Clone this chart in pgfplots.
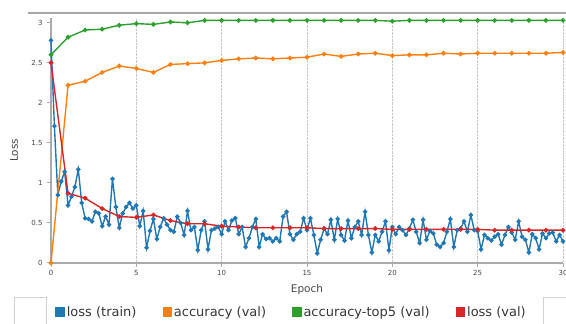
\documentclass[border=0pt]{standalone}
\usepackage{pgfplots}
\pgfplotsset{compat=1.18}
\usepackage{pgfplotstable}
\usepackage{fontspec}
\setmainfont{DejaVu Sans}
\definecolor{cblue}{HTML}{1F77B4}
\definecolor{corange}{HTML}{FF7F0E}
\definecolor{cgreen}{HTML}{2CA02C}
\definecolor{cred}{HTML}{D62728}
\definecolor{axgray}{HTML}{AAAAAA}
\definecolor{txtgray}{HTML}{444444}

\pgfplotstableread{
x y
0.0 2.78
0.2 1.71
0.4 0.85
0.6 1.02
0.8 1.14
1.0 0.72
1.2 0.83
1.4 0.95
1.6 1.17
1.8 0.75
2.0 0.56
2.2 0.55
2.4 0.52
2.6 0.64
2.8 0.62
3.0 0.46
3.2 0.58
3.4 0.48
3.6 1.05
3.8 0.70
4.0 0.44
4.2 0.62
4.4 0.70
4.6 0.75
4.8 0.68
5.0 0.72
5.2 0.46
5.4 0.65
5.6 0.19
5.8 0.40
6.0 0.55
6.2 0.30
6.4 0.45
6.6 0.56
6.8 0.48
7.0 0.41
7.2 0.39
7.4 0.58
7.6 0.50
7.8 0.35
8.0 0.65
8.2 0.41
8.4 0.45
8.6 0.16
8.8 0.41
9.0 0.52
9.2 0.17
9.4 0.41
9.6 0.43
9.8 0.45
10.0 0.36
10.2 0.52
10.4 0.41
10.6 0.53
10.8 0.56
11.0 0.36
11.2 0.45
11.4 0.20
11.6 0.31
11.8 0.45
12.0 0.55
12.2 0.20
12.4 0.36
12.6 0.30
12.8 0.31
13.0 0.27
13.2 0.31
13.4 0.27
13.6 0.58
13.8 0.64
14.0 0.36
14.2 0.29
14.4 0.36
14.6 0.39
14.8 0.56
15.0 0.41
15.2 0.56
15.4 0.35
15.6 0.12
15.8 0.29
16.0 0.43
16.2 0.36
16.4 0.54
16.6 0.29
16.8 0.55
17.0 0.35
17.2 0.28
17.4 0.53
17.6 0.31
17.8 0.45
18.0 0.52
18.2 0.35
18.4 0.64
18.6 0.35
18.8 0.13
19.0 0.35
19.2 0.27
19.4 0.39
19.6 0.52
19.8 0.16
20.0 0.45
20.2 0.36
20.4 0.45
20.6 0.41
20.8 0.35
21.0 0.43
21.2 0.54
21.4 0.39
21.6 0.25
21.8 0.54
22.0 0.29
22.2 0.40
22.4 0.37
22.6 0.23
22.8 0.20
23.0 0.25
23.2 0.39
23.4 0.55
23.6 0.20
23.8 0.41
24.0 0.43
24.2 0.52
24.4 0.39
24.6 0.60
24.8 0.41
25.0 0.40
25.2 0.17
25.4 0.35
25.6 0.31
25.8 0.28
26.0 0.33
26.2 0.36
26.4 0.23
26.6 0.35
26.8 0.45
27.0 0.38
27.2 0.29
27.4 0.52
27.6 0.33
27.8 0.29
28.0 0.13
28.2 0.36
28.4 0.31
28.6 0.17
28.8 0.37
29.0 0.31
29.2 0.37
29.4 0.38
29.6 0.27
29.8 0.35
30.0 0.27
}\losstrain

\pgfplotstableread{
x acc top5 lossval
0 0.00 2.60 2.50
1 2.22 2.82 0.87
2 2.27 2.91 0.81
3 2.38 2.92 0.68
4 2.46 2.97 0.58
5 2.43 2.99 0.57
6 2.38 2.98 0.60
7 2.48 3.01 0.53
8 2.49 3.00 0.49
9 2.50 3.03 0.49
10 2.53 3.03 0.46
11 2.55 3.03 0.45
12 2.56 3.03 0.44
13 2.55 3.03 0.44
14 2.56 3.03 0.44
15 2.57 3.03 0.44
16 2.61 3.03 0.43
17 2.58 3.03 0.43
18 2.61 3.03 0.43
19 2.62 3.03 0.43
20 2.59 3.02 0.42
21 2.60 3.03 0.42
22 2.60 3.03 0.42
23 2.62 3.03 0.42
24 2.61 3.03 0.42
25 2.62 3.03 0.42
26 2.62 3.03 0.41
27 2.62 3.03 0.41
28 2.62 3.03 0.41
29 2.62 3.03 0.41
30 2.63 3.03 0.41
}\valtable

\begin{document}
\begin{tikzpicture}[x=1pt,y=1pt]
\path[use as bounding box] (0,0) rectangle (566,324);
% top rule and legend side boxes
\draw[line width=2pt, color=gray!70] (28,311) -- (566,311);
\draw[color=gray!35, line width=0.8pt] (14,-5) rectangle (46,27);
\draw[color=gray!35, line width=0.8pt] (543,-5) rectangle (580,27);
\begin{axis}[
  at={(51pt,61pt)}, anchor=south west,
  scale only axis, width=512pt, height=245pt,
  xmin=0, xmax=30, ymin=0, ymax=3.06,
  clip=false,
  axis lines*=left,
  axis line style={color=axgray, line width=1.4pt},
  xtick={0,5,10,15,20,25,30},
  ytick={0,0.5,1,1.5,2,2.5,3},
  tick align=outside,
  major tick length=4pt,
  tick style={color=axgray, line width=1pt},
  xmajorgrids,
  grid style={densely dotted, color=gray!45, line width=0.8pt},
  ticklabel style={font=\fontsize{7}{8}\selectfont, color=txtgray},
  /pgf/number format/assume math mode=true,
  yticklabel style={xshift=-1pt},
  xlabel={Epoch}, ylabel={Loss},
  label style={font=\fontsize{10.5}{12}\selectfont, color=txtgray},
  xlabel style={at={(axis description cs:0.5,-0.075)}, anchor=north},
  ylabel style={at={(axis description cs:-0.072,0.46)}, anchor=center},
  legend columns=4,
  legend style={at={(axis description cs:0.47,-0.2)}, anchor=center,
    draw=none, fill=none, font=\fontsize{13}{14}\selectfont, text=txtgray!80!black,
    /tikz/every even column/.append style={column sep=24pt}},
  legend image code/.code={\fill (0pt,-4pt) rectangle (8pt,4pt);},
]
\addplot[color=cblue, line width=1.4pt, mark=*, mark size=1.5pt] table[x=x,y=y] {\losstrain};
\addlegendentry{loss (train)}
\addplot[color=corange, line width=1.4pt, mark=*, mark size=1.6pt] table[x=x,y=acc] {\valtable};
\addlegendentry{accuracy (val)}
\addplot[color=cgreen, line width=1.4pt, mark=*, mark size=1.6pt] table[x=x,y=top5] {\valtable};
\addlegendentry{accuracy-top5 (val)}
\addplot[color=cred, line width=1.4pt, mark=*, mark size=1.6pt] table[x=x,y=lossval] {\valtable};
\addlegendentry{loss (val)}
\end{axis}
\end{tikzpicture}
\end{document}
